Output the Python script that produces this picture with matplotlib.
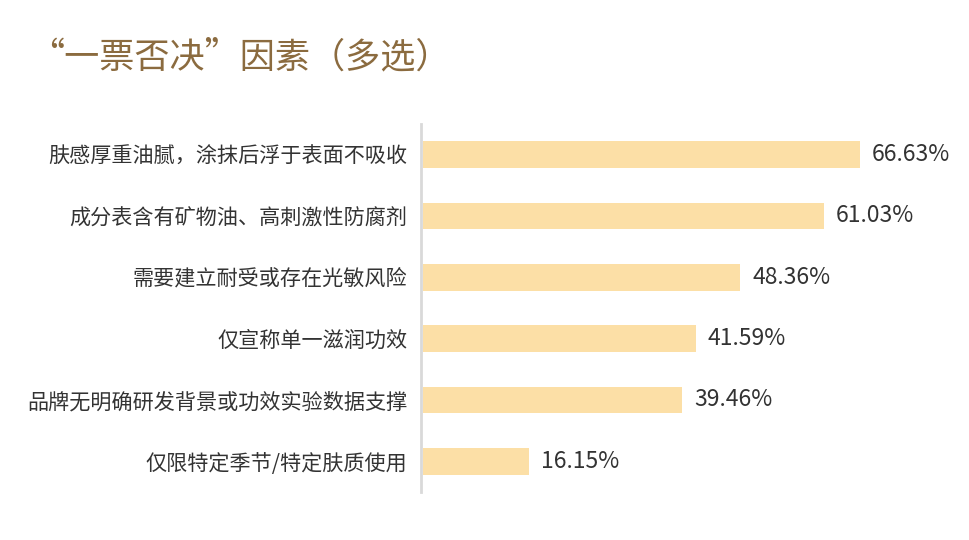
import matplotlib.pyplot as plt

plt.rcParams['font.family'] = ['Noto Sans CJK SC', 'DejaVu Sans']

categories = [
    "肤感厚重油腻，涂抹后浮于表面不吸收",
    "成分表含有矿物油、高刺激性防腐剂",
    "需要建立耐受或存在光敏风险",
    "仅宣称单一滋润功效",
    "品牌无明确研发背景或功效实验数据支撑",
    "仅限特定季节/特定肤质使用",
]
values = [66.63, 61.03, 48.36, 41.59, 39.46, 16.15]
title = "“一票否决”因素（多选）"

bar_color = "#FCDFA6"
text_color = "#333333"

fig = plt.figure(figsize=(9.69, 5.4), dpi=100)
ax = fig.add_axes([421 / 969, 48 / 540, 500 / 969, 368 / 540])

pos = list(range(len(values)))
ax.barh(pos, values, height=0.43, color=bar_color)
for p, v in zip(pos, values):
    ax.text(v + 1.8, p, f"{v:.2f}%", va="center", ha="left",
            fontsize=16.5, color=text_color)

ax.set_ylim(len(values) - 0.5, -0.5)
ax.set_xlim(-0.3, 500 / 6.59)
ax.set_yticks(pos)
ax.set_yticklabels(categories, fontsize=15.2, color=text_color)
ax.tick_params(axis="y", length=0, pad=10)
ax.set_xticks([])
for s in ["top", "right", "bottom"]:
    ax.spines[s].set_visible(False)
ax.spines["left"].set_color("#d9d9d9")
ax.spines["left"].set_linewidth(2)

fig.text(29 / 969, 1 - 57 / 540, title, fontsize=25.3, color="#8B6B3F",
         va="center", ha="left")

fig.savefig("out.png", dpi=100)
